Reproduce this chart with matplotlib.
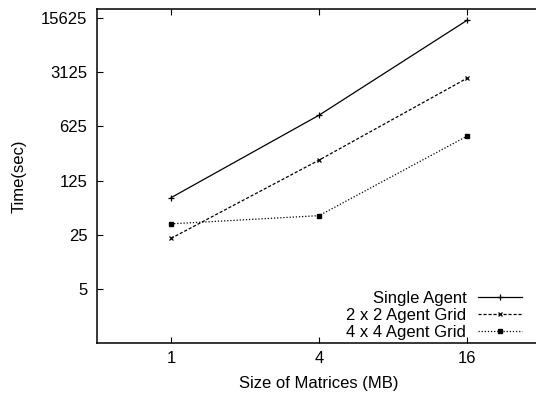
import matplotlib
matplotlib.use("Agg")
import matplotlib.pyplot as plt
import numpy as np

# data (log-log plot)
sizes = [1, 4, 16]
single_agent = [75, 870, 14600]
grid_2x2 = [22.4, 229, 2610]
grid_4x4 = [34.5, 44, 467]

y_ticks = [5, 25, 125, 625, 3125, 15625]

plt.rcParams['font.family'] = ['Liberation Sans', 'DejaVu Sans']
plt.rcParams['font.size'] = 12

fig = plt.figure(figsize=(5.36, 3.96), dpi=100)
ax = fig.add_axes([97/536, 53/396, 444/536, 334/396])

ax.plot(sizes, single_agent, color='black', lw=0.9, marker='+', ms=4, mew=0.9,
        label='Single Agent')
ax.plot(sizes, grid_2x2, color='black', lw=0.9, ls=(0, (2.5, 1.5)), marker='x', ms=3.5,
        mew=0.9, label='2 x 2 Agent Grid')
ax.plot(sizes, grid_4x4, color='black', lw=0.9, ls=(0, (1, 1.5)), marker='s', ms=2.5,
        label='4 x 4 Agent Grid')

ax.set_xscale('log', base=4)
ax.set_yscale('log', base=5)
ax.set_xlim(0.5, 32)
ax.set_ylim(1, 5 ** 6.167)

ax.set_xticks(sizes)
ax.set_xticklabels([str(s) for s in sizes])
ax.set_yticks(y_ticks)
ax.set_yticklabels([str(t) for t in y_ticks])
ax.minorticks_off()
ax.tick_params(direction='in', length=4, width=0.8, top=True, right=False)
ax.tick_params(axis='y', pad=7)
ax.tick_params(axis='x', pad=6)

for s in ['left', 'bottom', 'top']:
    ax.spines[s].set_linewidth(1.1)
ax.spines['right'].set_visible(False)

ax.set_xlabel('Size of Matrices (MB)', labelpad=7)
ax.set_ylabel('Time(sec)', labelpad=10)

leg = ax.legend(loc='lower right', bbox_to_anchor=(0.965, 0.0), frameon=False,
                markerfirst=False, handlelength=2.65, handletextpad=0.7,
                labelspacing=0.12, borderaxespad=0.2, borderpad=0.0,
                alignment='right')
for t in leg.get_texts():
    t.set_ha('right')

fig.savefig('out.png', dpi=100)
